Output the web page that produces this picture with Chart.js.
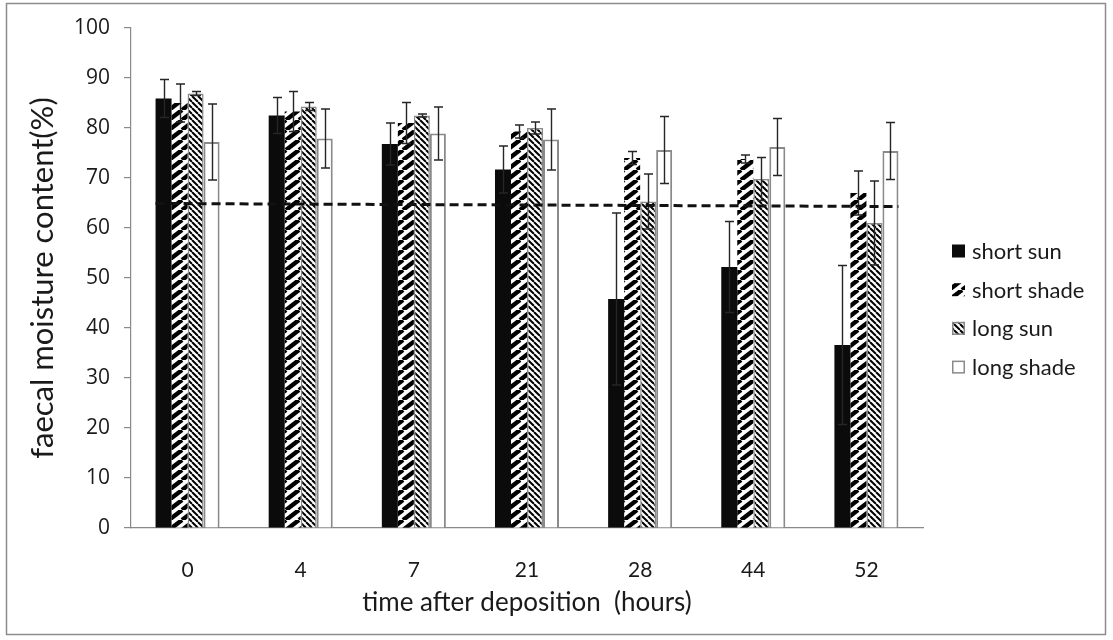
<!DOCTYPE html>
<html>
<head>
<meta charset="utf-8">
<script src="https://cdn.jsdelivr.net/npm/chart.js@4.4.1/dist/chart.umd.min.js"></script>
<style>
  html, body { margin: 0; padding: 0; background: #fff; }
  #wrap { width: 1113px; height: 640px; }
</style>
</head>
<body>
<div id="wrap"><canvas id="chart" width="1113" height="640"></canvas></div>
<script>
// Sampling times (hours after deposition)
const categories = ['0', '4', '7', '21', '28', '44', '52'];

// Mean faecal moisture content (%) per treatment
const shortSun   = [85.9, 82.5, 76.8, 71.7, 45.8, 52.2, 36.6];
const shortShade = [85.0, 83.3, 81.0, 79.3, 74.0, 73.8, 67.0];
const longSun    = [86.9, 84.3, 82.5, 80.0, 65.3, 69.8, 61.0];
const longShade  = [77.2, 77.9, 78.9, 77.7, 75.6, 76.2, 75.4];

// Error bar half-lengths (%)
const shortSunErr   = [3.8, 3.6, 4.2, 4.7, 17.2, 9.1, 15.9];
const shortShadeErr = [3.8, 4.0, 4.1, 1.3, 1.3, 0.8, 4.4];
const longSunErr    = [0.4, 0.8, 0.3, 1.2, 5.5, 4.3, 8.4];
const longShadeErr  = [7.6, 5.9, 5.3, 6.1, 6.7, 5.7, 5.7];

// Dashed reference level (start, end) in %
const referenceLine = [64.9, 64.3];

// Y axis range and step
const yTicks = { min: 0, max: 100, step: 10 };

const AXIS_GREY = '#898989';
const TEXT = '#1a1a1a';

// Diagonal stripe fill; dir > 0 gives "/" stripes, dir < 0 gives "\" stripes
function stripes(w, h, lineWidth, dir) {
  const c = document.createElement('canvas');
  c.width = w; c.height = h;
  const g = c.getContext('2d');
  g.fillStyle = '#ffffff';
  g.fillRect(0, 0, w, h);
  g.strokeStyle = '#000000';
  g.lineWidth = lineWidth;
  for (const k of [-1, 0, 1]) {
    g.beginPath();
    if (dir > 0) { g.moveTo(k * w, h); g.lineTo(k * w + w, 0); }
    else { g.moveTo(k * w, 0); g.lineTo(k * w + w, h); }
    g.stroke();
  }
  return g.createPattern(c, 'repeat');
}

const wideHatch = stripes(13, 10, 4.4, 1);
const fineHatch = stripes(6, 6, 2.0, -1);

const datasets = [
  { label: 'short sun', data: shortSun, errors: shortSunErr,
    backgroundColor: '#0b0b0b', borderColor: '#0b0b0b', borderWidth: 0 },
  { label: 'short shade', data: shortShade, errors: shortShadeErr,
    backgroundColor: wideHatch, borderColor: '#ffffff', borderWidth: 0 },
  { label: 'long sun', data: longSun, errors: longSunErr,
    backgroundColor: fineHatch, borderColor: '#8a8a8a', borderWidth: 1.5 },
  { label: 'long shade', data: longShade, errors: longShadeErr,
    backgroundColor: '#ffffff', borderColor: '#8a8a8a', borderWidth: 2 }
];

// Error bars, reference line, legend and outer frame
const decorations = {
  id: 'decorations',
  beforeDraw(chart) {
    const ctx = chart.ctx;
    ctx.save();
    ctx.fillStyle = '#ffffff';
    ctx.fillRect(0, 0, chart.width, chart.height);
    ctx.restore();
  },
  afterDatasetsDraw(chart) {
    const ctx = chart.ctx;
    const y = chart.scales.y;
    ctx.save();
    ctx.strokeStyle = '#262626';
    ctx.lineWidth = 1.4;
    chart.data.datasets.forEach((ds, i) => {
      const meta = chart.getDatasetMeta(i);
      meta.data.forEach((bar, j) => {
        const v = ds.data[j], e = ds.errors[j];
        const yt = y.getPixelForValue(v + e);
        const yb = y.getPixelForValue(v - e);
        const x = Math.round(bar.x) + 0.5;
        ctx.beginPath();
        ctx.moveTo(x, yt); ctx.lineTo(x, yb);
        ctx.moveTo(x - 4.5, yt); ctx.lineTo(x + 4.5, yt);
        ctx.moveTo(x - 4.5, yb); ctx.lineTo(x + 4.5, yb);
        ctx.stroke();
      });
    });

    // dashed reference line spanning from the first bar group to the last
    const first = chart.getDatasetMeta(0).data[0];
    const lastMeta = chart.getDatasetMeta(chart.data.datasets.length - 1);
    const last = lastMeta.data[lastMeta.data.length - 1];
    const x0 = first.x - first.width / 2;
    const x1 = last.x + last.width / 2;
    ctx.strokeStyle = '#111111';
    ctx.lineWidth = 3;
    ctx.setLineDash([9, 5]);
    ctx.beginPath();
    ctx.moveTo(x0, y.getPixelForValue(referenceLine[0]));
    ctx.lineTo(x1, y.getPixelForValue(referenceLine[1]));
    ctx.stroke();
    ctx.restore();
  },
  afterDraw(chart) {
    const ctx = chart.ctx;
    ctx.save();
    // legend
    const lx = 952, top = 251, gap = 38.7, box = 13;
    ctx.font = '22px Lato';
    ctx.textBaseline = 'middle';
    ctx.textAlign = 'left';
    chart.data.datasets.forEach((ds, i) => {
      const cy = top + i * gap;
      ctx.fillStyle = ds.backgroundColor;
      ctx.fillRect(lx, cy - box / 2, box, box);
      if (ds.borderWidth > 0) {
        ctx.strokeStyle = ds.borderColor;
        ctx.lineWidth = 1.5;
        ctx.strokeRect(lx + 0.75, cy - box / 2 + 0.75, box - 1.5, box - 1.5);
      }
      ctx.fillStyle = TEXT;
      ctx.fillText(ds.label, lx + 20, cy + 1);
    });
    // outer frame
    ctx.strokeStyle = '#8c8c8c';
    ctx.lineWidth = 1.5;
    ctx.strokeRect(6.5, 3.5, 1099, 631);
    ctx.restore();
  }
};

new Chart(document.getElementById('chart'), {
  type: 'bar',
  data: { labels: categories, datasets },
  options: {
    responsive: false,
    animation: false,
    devicePixelRatio: 1,
    layout: { padding: { top: 28, right: 190, bottom: 0, left: 0 } },
    datasets: { bar: { barPercentage: 1, categoryPercentage: 0.566 } },
    plugins: { legend: { display: false }, tooltip: { enabled: false } },
    scales: {
      x: {
        grid: { display: false, drawTicks: false },
        border: { color: AXIS_GREY, width: 1.2 },
        ticks: { padding: 30, color: TEXT, maxRotation: 0, font: { family: 'Lato', size: 21 } },
        title: {
          display: true, text: 'time after deposition  (hours)', color: TEXT,
          font: { family: 'Lato', size: 26 }, padding: { top: 0, bottom: 22 }
        },
        afterFit(scale) { scale.height = 112; }
      },
      y: {
        min: yTicks.min, max: yTicks.max,
        ticks: { stepSize: yTicks.step, padding: 14, color: TEXT, font: { family: 'Open Sans', size: 21 } },
        grid: { drawOnChartArea: false, drawTicks: true, tickLength: 7, color: AXIS_GREY, lineWidth: 1.2 },
        border: { color: AXIS_GREY, width: 1.2 },
        title: {
          display: true, text: 'faecal moisture content(%)', color: TEXT,
          font: { family: 'Lato', size: 31 }, padding: { top: 24, bottom: 0 }
        },
        afterFit(scale) { scale.width = 131; }
      }
    }
  },
  plugins: [decorations]
});
</script>
</body>
</html>
